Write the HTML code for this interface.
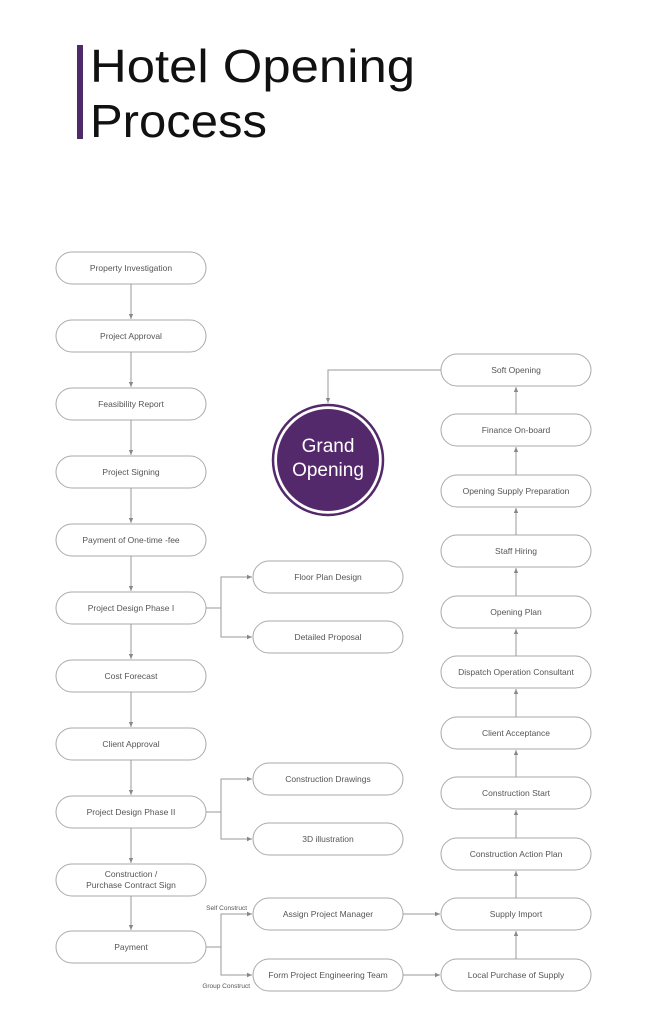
<!DOCTYPE html>
<html><head><meta charset="utf-8"><style>
body{margin:0;background:#fff;width:646px;height:1024px;overflow:hidden;}
svg{display:block}
</style></head><body>
<svg width="646" height="1024" viewBox="0 0 646 1024" xmlns="http://www.w3.org/2000/svg">
<defs><marker id="a" markerWidth="6" markerHeight="6" refX="5" refY="3" orient="auto"><path d="M0,0.8 L5,3 L0,5.2z" fill="#888"/></marker></defs>
<rect x="77" y="45" width="6" height="94" fill="#4e2a68"/>
<text x="90" y="82" font-family="Liberation Sans, sans-serif" font-size="46" fill="#111" textLength="325" lengthAdjust="spacingAndGlyphs">Hotel Opening</text>
<text x="90" y="137" font-family="Liberation Sans, sans-serif" font-size="46" fill="#111" textLength="177" lengthAdjust="spacingAndGlyphs">Process</text>
<g fill="#fff" stroke="#aaa" stroke-width="1">
<rect x="56" y="252" width="150" height="32" rx="16"/>
<rect x="56" y="320" width="150" height="32" rx="16"/>
<rect x="56" y="388" width="150" height="32" rx="16"/>
<rect x="56" y="456" width="150" height="32" rx="16"/>
<rect x="56" y="524" width="150" height="32" rx="16"/>
<rect x="56" y="592" width="150" height="32" rx="16"/>
<rect x="56" y="660" width="150" height="32" rx="16"/>
<rect x="56" y="728" width="150" height="32" rx="16"/>
<rect x="56" y="796" width="150" height="32" rx="16"/>
<rect x="56" y="864" width="150" height="32" rx="16"/>
<rect x="56" y="931" width="150" height="32" rx="16"/>
<rect x="253" y="561" width="150" height="32" rx="16"/>
<rect x="253" y="621" width="150" height="32" rx="16"/>
<rect x="253" y="763" width="150" height="32" rx="16"/>
<rect x="253" y="823" width="150" height="32" rx="16"/>
<rect x="253" y="898" width="150" height="32" rx="16"/>
<rect x="253" y="959" width="150" height="32" rx="16"/>
<rect x="441" y="354" width="150" height="32" rx="16"/>
<rect x="441" y="414" width="150" height="32" rx="16"/>
<rect x="441" y="475" width="150" height="32" rx="16"/>
<rect x="441" y="535" width="150" height="32" rx="16"/>
<rect x="441" y="596" width="150" height="32" rx="16"/>
<rect x="441" y="656" width="150" height="32" rx="16"/>
<rect x="441" y="717" width="150" height="32" rx="16"/>
<rect x="441" y="777" width="150" height="32" rx="16"/>
<rect x="441" y="838" width="150" height="32" rx="16"/>
<rect x="441" y="898" width="150" height="32" rx="16"/>
<rect x="441" y="959" width="150" height="32" rx="16"/>
</g>
<g stroke="#999" stroke-width="1" fill="none" marker-end="url(#a)">
<path d="M131 284V319"/><path d="M131 352V387"/><path d="M131 420V455"/><path d="M131 488V523"/><path d="M131 556V591"/><path d="M131 624V659"/><path d="M131 692V727"/><path d="M131 760V795"/><path d="M131 828V863"/><path d="M131 896V930"/>
<path d="M206 608H221V577H252"/><path d="M221 608V637H252"/>
<path d="M206 812H221V779H252"/><path d="M221 812V839H252"/>
<path d="M206 947H221V914H252"/><path d="M221 947V975H252"/>
<path d="M403 914H440"/><path d="M403 975H440"/>
<path d="M516 959V931"/><path d="M516 898V871"/><path d="M516 838V810"/><path d="M516 777V750"/><path d="M516 717V689"/><path d="M516 656V629"/><path d="M516 596V568"/><path d="M516 535V508"/><path d="M516 475V447"/><path d="M516 414V387"/>
<path d="M441 370H328V403"/>
</g>
<circle cx="328" cy="460" r="55" fill="#fff" stroke="#54296b" stroke-width="2.5"/>
<circle cx="328" cy="460" r="51" fill="#54296b"/>
<g font-family="Liberation Sans, sans-serif" fill="#fff" font-size="19" text-anchor="middle">
<text x="328" y="452">Grand</text><text x="328" y="476">Opening</text>
</g>
<g font-family="Liberation Sans, sans-serif" fill="#555" font-size="8.5" text-anchor="middle">
<text x="131" y="271">Property Investigation</text>
<text x="131" y="339">Project Approval</text>
<text x="131" y="407">Feasibility Report</text>
<text x="131" y="475">Project Signing</text>
<text x="131" y="543">Payment of One-time -fee</text>
<text x="131" y="611">Project Design Phase I</text>
<text x="131" y="679">Cost Forecast</text>
<text x="131" y="747">Client Approval</text>
<text x="131" y="815">Project Design Phase II</text>
<text x="131" y="877">Construction /</text>
<text x="131" y="888">Purchase Contract Sign</text>
<text x="131" y="950">Payment</text>
<text x="328" y="580">Floor Plan Design</text>
<text x="328" y="640">Detailed Proposal</text>
<text x="328" y="782">Construction Drawings</text>
<text x="328" y="842">3D illustration</text>
<text x="328" y="917">Assign Project Manager</text>
<text x="328" y="978">Form Project Engineering Team</text>
<text x="516" y="373">Soft Opening</text>
<text x="516" y="433">Finance On-board</text>
<text x="516" y="494">Opening Supply Preparation</text>
<text x="516" y="554">Staff Hiring</text>
<text x="516" y="615">Opening Plan</text>
<text x="516" y="675">Dispatch Operation Consultant</text>
<text x="516" y="736">Client Acceptance</text>
<text x="516" y="796">Construction Start</text>
<text x="516" y="857">Construction Action Plan</text>
<text x="516" y="917">Supply Import</text>
<text x="516" y="978">Local Purchase of Supply</text>
</g>
<g font-family="Liberation Sans, sans-serif" fill="#555" font-size="6.5" text-anchor="end">
<text x="247" y="910">Self Construct</text>
<text x="250" y="988">Group Construct</text>
</g>
</svg>
</body></html>
